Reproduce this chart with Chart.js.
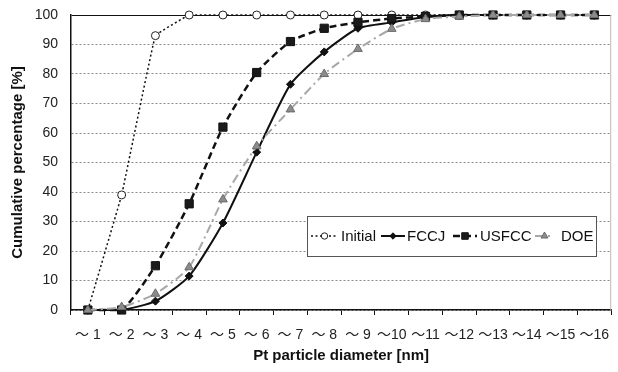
<!DOCTYPE html>
<html>
<head>
<meta charset="utf-8">
<script src="https://cdn.jsdelivr.net/npm/chart.js@4.4.1/dist/chart.umd.min.js"></script>
<style>
  html, body { margin: 0; padding: 0; background: #fff; }
  #wrap { width: 618px; height: 372px; }
</style>
</head>
<body>
<div id="wrap"><canvas id="chart" width="618" height="372"></canvas></div>
<script>
// categories (particle diameter bins)
var categories = ["〜 1", "〜 2", "〜 3", "〜 4", "〜 5", "〜 6", "〜 7", "〜 8",
                  "〜 9", "〜10", "〜11", "〜12", "〜13", "〜14", "〜15", "〜16"];

// cumulative percentage per series
var initialVals = [0, 39, 93, 100, 100, 100, 100, 100, 100, 100, 100, 100, 100, 100, 100, 100];
var fccjVals    = [0, 0, 3, 11.5, 29.5, 53.5, 76.5, 87.5, 95.5, 97.5, 99.3, 100, 100, 100, 100, 100];
var usfccVals   = [0, 0, 15, 36, 62, 80.5, 91, 95.5, 97.5, 98.8, 99.5, 100, 100, 100, 100, 100];
var doeVals     = [0, 1, 5.5, 14.5, 37.5, 55.5, 68, 80, 88.5, 95.3, 98.6, 99.5, 100, 100, 100, 100];

var yTicks = [0, 10, 20, 30, 40, 50, 60, 70, 80, 90, 100];

var FONT = "'Liberation Sans', Arial, 'Noto Sans CJK JP', sans-serif";

// legend drawn inside the plot, like the original
var insideLegend = {
  id: "insideLegend",
  afterDatasetsDraw: function (chart) {
    var ctx = chart.ctx;
    var a = chart.chartArea;
    var bx = a.left + 236, by = a.top + 201, bw = 289, bh = 40;
    var cy = by + bh / 2;
    ctx.save();
    ctx.fillStyle = "#fff";
    ctx.fillRect(bx, by, bw, bh);
    ctx.strokeStyle = "#555";
    ctx.lineWidth = 1;
    ctx.strokeRect(bx + 0.5, by + 0.5, bw, bh);

    var items = [
      { ds: 0, x0: 4, x1: 31, tx: 34 },
      { ds: 1, x0: 74, x1: 98, tx: 100 },
      { ds: 2, x0: 146, x1: 170, tx: 173 },
      { ds: 3, x0: 228, x1: 247, tx: 254 }
    ];
    items.forEach(function (it) {
      var d = chart.data.datasets[it.ds];
      ctx.save();
      ctx.strokeStyle = d.borderColor;
      ctx.lineWidth = d.borderWidth;
      ctx.setLineDash(d.borderDash || []);
      ctx.beginPath();
      ctx.moveTo(bx + it.x0, cy);
      ctx.lineTo(bx + it.x1, cy);
      ctx.stroke();
      ctx.restore();
      ctx.save();
      ctx.fillStyle = d.pointBackgroundColor;
      ctx.strokeStyle = d.pointBorderColor;
      ctx.lineWidth = 1;
      Chart.helpers.drawPoint(ctx, {
        pointStyle: d.pointStyle,
        radius: d.pointRadius * 0.8,
        rotation: 0,
        borderWidth: 1
      }, bx + (it.x0 + it.x1) / 2, cy);
      ctx.restore();
      ctx.fillStyle = "#111";
      ctx.font = "15px " + FONT;
      ctx.textBaseline = "middle";
      ctx.fillText(d.label, bx + it.tx, cy + 1);
    });

    // light right frame of the plot
    ctx.strokeStyle = "#bbb";
    ctx.lineWidth = 1;
    ctx.beginPath();
    ctx.moveTo(a.right - 0.5, a.top);
    ctx.lineTo(a.right - 0.5, a.bottom);
    ctx.stroke();
    ctx.restore();
  }
};

new Chart(document.getElementById("chart").getContext("2d"), {
  type: "line",
  data: {
    labels: categories,
    datasets: [
      {
        label: "Initial",
        data: initialVals,
        borderColor: "#111",
        borderWidth: 1.5,
        borderDash: [2, 2.5],
        pointStyle: "circle",
        pointRadius: 4,
        pointBackgroundColor: "#fff",
        pointBorderColor: "#222",
        pointBorderWidth: 1,
        tension: 0.05,
        order: 4
      },
      {
        label: "FCCJ",
        data: fccjVals,
        borderColor: "#111",
        borderWidth: 2,
        borderDash: [],
        pointStyle: "rectRot",
        pointRadius: 4,
        pointBackgroundColor: "#111",
        pointBorderColor: "#111",
        pointBorderWidth: 1,
        order: 3
      },
      {
        label: "USFCC",
        data: usfccVals,
        borderColor: "#111",
        borderWidth: 2.5,
        borderDash: [7, 4],
        pointStyle: "rect",
        pointRadius: 5.8,
        pointBackgroundColor: "#1a1a1a",
        pointBorderColor: "#111",
        pointBorderWidth: 1,
        order: 2
      },
      {
        label: "DOE",
        data: doeVals,
        borderColor: "#a8a8a8",
        borderWidth: 2,
        borderDash: [9, 4, 2, 4],
        pointStyle: "triangle",
        pointRadius: 5,
        pointBackgroundColor: "#8c8c8c",
        pointBorderColor: "#6a6a6a",
        pointBorderWidth: 1,
        order: 1
      }
    ]
  },
  options: {
    responsive: false,
    animation: false,
    devicePixelRatio: 1,
    layout: { padding: { left: 0, top: 15, right: 1, bottom: 0 } },
    elements: { line: { tension: 0.2 } },
    datasets: { line: { clip: 10 } },
    plugins: {
      legend: { display: false },
      tooltip: { enabled: false }
    },
    scales: {
      x: {
        type: "category",
        offset: true,
        afterFit: function (s) { s.height = 62; s.paddingLeft = 0; s.paddingRight = 0; },
        grid: {
          offset: true,
          drawOnChartArea: false,
          drawTicks: true,
          tickLength: 5,
          color: "#111",
          lineWidth: 1
        },
        border: { display: true, color: "#111", width: 1.5 },
        ticks: {
          color: "#222",
          font: { family: FONT, size: 14 },
          padding: 12,
          maxRotation: 0,
          autoSkip: false
        },
        title: {
          display: true,
          text: "Pt particle diameter [nm]",
          color: "#111",
          font: { family: FONT, size: 15, weight: "bold" },
          padding: { top: 7, bottom: 7 }
        }
      },
      y: {
        min: 0,
        max: 100,
        afterFit: function (s) { s.width = 71; s.paddingTop = 0; s.paddingBottom = 0; },
        afterBuildTicks: function (s) {
          s.ticks = yTicks.map(function (v) { return { value: v }; });
        },
        grid: {
          drawTicks: false,
          color: function (c) { return c.tick && c.tick.value === 100 ? "#111" : "#8a8a8a"; },
          lineWidth: 1,
          borderDash: function (c) { return c.tick && c.tick.value === 100 ? [] : [2, 2]; }
        },
        border: {
          display: true,
          color: "#111",
          width: 1.5,
          dash: function (c) { return c.tick && c.tick.value === 100 ? [] : [2, 2]; }
        },
        ticks: {
          color: "#222",
          font: { family: FONT, size: 14 },
          padding: 13
        },
        title: {
          display: true,
          text: "Cumulative percentage [%]",
          color: "#111",
          font: { family: FONT, size: 15, weight: "bold" },
          padding: { top: 9, bottom: 9 }
        }
      }
    }
  },
  plugins: [insideLegend]
});
</script>
</body>
</html>
